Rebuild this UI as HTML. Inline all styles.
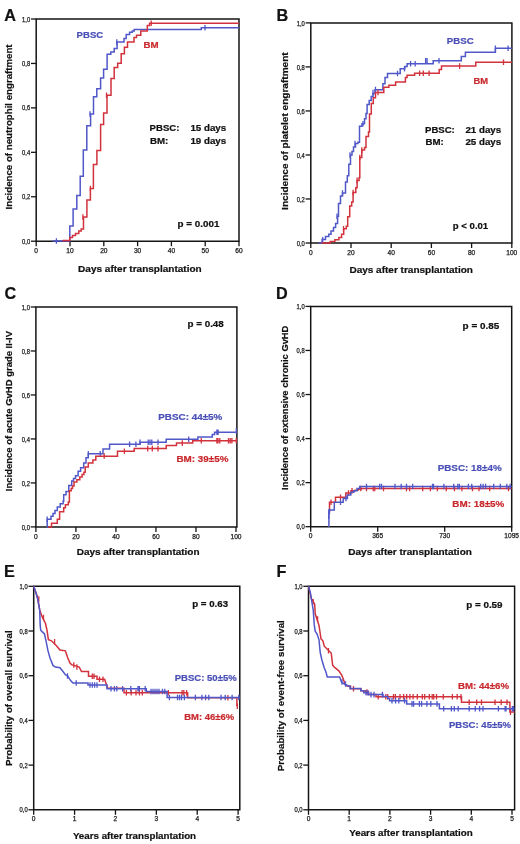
<!DOCTYPE html><html><head><meta charset="utf-8"><style>html,body{margin:0;padding:0;background:#fff;width:520px;height:844px;overflow:hidden}svg{display:block;will-change:transform;filter:blur(0.3px)}text{font-family:"Liberation Sans",sans-serif}</style></head><body>
<svg width="520" height="844" viewBox="0 0 520 844">
<path d="M36.20 19.00H239.00V241.20H36.20Z" fill="none" stroke="#141414" stroke-width="1.5"/>
<path d="M31.00 241.20H36.20" stroke="#141414" stroke-width="1.3"/>
<text x="22.10" y="243.80" font-size="6.5" fill="#1a1a1a" stroke="#1a1a1a" stroke-width="0.25" textLength="8.1" lengthAdjust="spacingAndGlyphs">0,0</text>
<path d="M31.00 196.76H36.20" stroke="#141414" stroke-width="1.3"/>
<text x="22.10" y="199.36" font-size="6.5" fill="#1a1a1a" stroke="#1a1a1a" stroke-width="0.25" textLength="8.1" lengthAdjust="spacingAndGlyphs">0,2</text>
<path d="M31.00 152.32H36.20" stroke="#141414" stroke-width="1.3"/>
<text x="22.10" y="154.92" font-size="6.5" fill="#1a1a1a" stroke="#1a1a1a" stroke-width="0.25" textLength="8.1" lengthAdjust="spacingAndGlyphs">0,4</text>
<path d="M31.00 107.88H36.20" stroke="#141414" stroke-width="1.3"/>
<text x="22.10" y="110.48" font-size="6.5" fill="#1a1a1a" stroke="#1a1a1a" stroke-width="0.25" textLength="8.1" lengthAdjust="spacingAndGlyphs">0,6</text>
<path d="M31.00 63.44H36.20" stroke="#141414" stroke-width="1.3"/>
<text x="22.10" y="66.04" font-size="6.5" fill="#1a1a1a" stroke="#1a1a1a" stroke-width="0.25" textLength="8.1" lengthAdjust="spacingAndGlyphs">0,8</text>
<path d="M31.00 19.00H36.20" stroke="#141414" stroke-width="1.3"/>
<text x="22.10" y="21.60" font-size="6.5" fill="#1a1a1a" stroke="#1a1a1a" stroke-width="0.25" textLength="8.1" lengthAdjust="spacingAndGlyphs">1,0</text>
<path d="M36.20 241.20V246.20" stroke="#141414" stroke-width="1.3"/>
<text x="36.20" y="252.80" font-size="6.6" fill="#1a1a1a" stroke="#1a1a1a" stroke-width="0.25" text-anchor="middle">0</text>
<path d="M70.00 241.20V246.20" stroke="#141414" stroke-width="1.3"/>
<text x="70.00" y="252.80" font-size="6.6" fill="#1a1a1a" stroke="#1a1a1a" stroke-width="0.25" text-anchor="middle">10</text>
<path d="M103.80 241.20V246.20" stroke="#141414" stroke-width="1.3"/>
<text x="103.80" y="252.80" font-size="6.6" fill="#1a1a1a" stroke="#1a1a1a" stroke-width="0.25" text-anchor="middle">20</text>
<path d="M137.60 241.20V246.20" stroke="#141414" stroke-width="1.3"/>
<text x="137.60" y="252.80" font-size="6.6" fill="#1a1a1a" stroke="#1a1a1a" stroke-width="0.25" text-anchor="middle">30</text>
<path d="M171.40 241.20V246.20" stroke="#141414" stroke-width="1.3"/>
<text x="171.40" y="252.80" font-size="6.6" fill="#1a1a1a" stroke="#1a1a1a" stroke-width="0.25" text-anchor="middle">40</text>
<path d="M205.20 241.20V246.20" stroke="#141414" stroke-width="1.3"/>
<text x="205.20" y="252.80" font-size="6.6" fill="#1a1a1a" stroke="#1a1a1a" stroke-width="0.25" text-anchor="middle">50</text>
<path d="M239.00 241.20V246.20" stroke="#141414" stroke-width="1.3"/>
<text x="239.00" y="252.80" font-size="6.6" fill="#1a1a1a" stroke="#1a1a1a" stroke-width="0.25" text-anchor="middle">60</text>
<path d="M310.80 22.90H511.90V243.00H310.80Z" fill="none" stroke="#141414" stroke-width="1.5"/>
<path d="M305.60 243.00H310.80" stroke="#141414" stroke-width="1.3"/>
<text x="296.70" y="245.60" font-size="6.5" fill="#1a1a1a" stroke="#1a1a1a" stroke-width="0.25" textLength="8.1" lengthAdjust="spacingAndGlyphs">0,0</text>
<path d="M305.60 198.98H310.80" stroke="#141414" stroke-width="1.3"/>
<text x="296.70" y="201.58" font-size="6.5" fill="#1a1a1a" stroke="#1a1a1a" stroke-width="0.25" textLength="8.1" lengthAdjust="spacingAndGlyphs">0,2</text>
<path d="M305.60 154.96H310.80" stroke="#141414" stroke-width="1.3"/>
<text x="296.70" y="157.56" font-size="6.5" fill="#1a1a1a" stroke="#1a1a1a" stroke-width="0.25" textLength="8.1" lengthAdjust="spacingAndGlyphs">0,4</text>
<path d="M305.60 110.94H310.80" stroke="#141414" stroke-width="1.3"/>
<text x="296.70" y="113.54" font-size="6.5" fill="#1a1a1a" stroke="#1a1a1a" stroke-width="0.25" textLength="8.1" lengthAdjust="spacingAndGlyphs">0,6</text>
<path d="M305.60 66.92H310.80" stroke="#141414" stroke-width="1.3"/>
<text x="296.70" y="69.52" font-size="6.5" fill="#1a1a1a" stroke="#1a1a1a" stroke-width="0.25" textLength="8.1" lengthAdjust="spacingAndGlyphs">0,8</text>
<path d="M305.60 22.90H310.80" stroke="#141414" stroke-width="1.3"/>
<text x="296.70" y="25.50" font-size="6.5" fill="#1a1a1a" stroke="#1a1a1a" stroke-width="0.25" textLength="8.1" lengthAdjust="spacingAndGlyphs">1,0</text>
<path d="M310.80 243.00V248.00" stroke="#141414" stroke-width="1.3"/>
<text x="310.80" y="254.60" font-size="6.6" fill="#1a1a1a" stroke="#1a1a1a" stroke-width="0.25" text-anchor="middle">0</text>
<path d="M351.00 243.00V248.00" stroke="#141414" stroke-width="1.3"/>
<text x="351.00" y="254.60" font-size="6.6" fill="#1a1a1a" stroke="#1a1a1a" stroke-width="0.25" text-anchor="middle">20</text>
<path d="M391.20 243.00V248.00" stroke="#141414" stroke-width="1.3"/>
<text x="391.20" y="254.60" font-size="6.6" fill="#1a1a1a" stroke="#1a1a1a" stroke-width="0.25" text-anchor="middle">40</text>
<path d="M431.40 243.00V248.00" stroke="#141414" stroke-width="1.3"/>
<text x="431.40" y="254.60" font-size="6.6" fill="#1a1a1a" stroke="#1a1a1a" stroke-width="0.25" text-anchor="middle">60</text>
<path d="M471.60 243.00V248.00" stroke="#141414" stroke-width="1.3"/>
<text x="471.60" y="254.60" font-size="6.6" fill="#1a1a1a" stroke="#1a1a1a" stroke-width="0.25" text-anchor="middle">80</text>
<path d="M511.80 243.00V248.00" stroke="#141414" stroke-width="1.3"/>
<text x="511.80" y="254.60" font-size="6.6" fill="#1a1a1a" stroke="#1a1a1a" stroke-width="0.25" text-anchor="middle">100</text>
<path d="M35.90 307.00H236.90V526.90H35.90Z" fill="none" stroke="#141414" stroke-width="1.5"/>
<path d="M30.70 526.90H35.90" stroke="#141414" stroke-width="1.3"/>
<text x="21.80" y="529.50" font-size="6.5" fill="#1a1a1a" stroke="#1a1a1a" stroke-width="0.25" textLength="8.1" lengthAdjust="spacingAndGlyphs">0,0</text>
<path d="M30.70 482.92H35.90" stroke="#141414" stroke-width="1.3"/>
<text x="21.80" y="485.52" font-size="6.5" fill="#1a1a1a" stroke="#1a1a1a" stroke-width="0.25" textLength="8.1" lengthAdjust="spacingAndGlyphs">0,2</text>
<path d="M30.70 438.94H35.90" stroke="#141414" stroke-width="1.3"/>
<text x="21.80" y="441.54" font-size="6.5" fill="#1a1a1a" stroke="#1a1a1a" stroke-width="0.25" textLength="8.1" lengthAdjust="spacingAndGlyphs">0,4</text>
<path d="M30.70 394.96H35.90" stroke="#141414" stroke-width="1.3"/>
<text x="21.80" y="397.56" font-size="6.5" fill="#1a1a1a" stroke="#1a1a1a" stroke-width="0.25" textLength="8.1" lengthAdjust="spacingAndGlyphs">0,6</text>
<path d="M30.70 350.98H35.90" stroke="#141414" stroke-width="1.3"/>
<text x="21.80" y="353.58" font-size="6.5" fill="#1a1a1a" stroke="#1a1a1a" stroke-width="0.25" textLength="8.1" lengthAdjust="spacingAndGlyphs">0,8</text>
<path d="M30.70 307.00H35.90" stroke="#141414" stroke-width="1.3"/>
<text x="21.80" y="309.60" font-size="6.5" fill="#1a1a1a" stroke="#1a1a1a" stroke-width="0.25" textLength="8.1" lengthAdjust="spacingAndGlyphs">1,0</text>
<path d="M35.90 526.90V531.90" stroke="#141414" stroke-width="1.3"/>
<text x="35.90" y="538.50" font-size="6.6" fill="#1a1a1a" stroke="#1a1a1a" stroke-width="0.25" text-anchor="middle">0</text>
<path d="M75.92 526.90V531.90" stroke="#141414" stroke-width="1.3"/>
<text x="75.92" y="538.50" font-size="6.6" fill="#1a1a1a" stroke="#1a1a1a" stroke-width="0.25" text-anchor="middle">20</text>
<path d="M115.94 526.90V531.90" stroke="#141414" stroke-width="1.3"/>
<text x="115.94" y="538.50" font-size="6.6" fill="#1a1a1a" stroke="#1a1a1a" stroke-width="0.25" text-anchor="middle">40</text>
<path d="M155.96 526.90V531.90" stroke="#141414" stroke-width="1.3"/>
<text x="155.96" y="538.50" font-size="6.6" fill="#1a1a1a" stroke="#1a1a1a" stroke-width="0.25" text-anchor="middle">60</text>
<path d="M195.98 526.90V531.90" stroke="#141414" stroke-width="1.3"/>
<text x="195.98" y="538.50" font-size="6.6" fill="#1a1a1a" stroke="#1a1a1a" stroke-width="0.25" text-anchor="middle">80</text>
<path d="M236.00 526.90V531.90" stroke="#141414" stroke-width="1.3"/>
<text x="236.00" y="538.50" font-size="6.6" fill="#1a1a1a" stroke="#1a1a1a" stroke-width="0.25" text-anchor="middle">100</text>
<path d="M310.70 306.40H511.70V526.70H310.70Z" fill="none" stroke="#141414" stroke-width="1.5"/>
<path d="M305.50 526.70H310.70" stroke="#141414" stroke-width="1.3"/>
<text x="296.60" y="529.30" font-size="6.5" fill="#1a1a1a" stroke="#1a1a1a" stroke-width="0.25" textLength="8.1" lengthAdjust="spacingAndGlyphs">0,0</text>
<path d="M305.50 482.64H310.70" stroke="#141414" stroke-width="1.3"/>
<text x="296.60" y="485.24" font-size="6.5" fill="#1a1a1a" stroke="#1a1a1a" stroke-width="0.25" textLength="8.1" lengthAdjust="spacingAndGlyphs">0,2</text>
<path d="M305.50 438.58H310.70" stroke="#141414" stroke-width="1.3"/>
<text x="296.60" y="441.18" font-size="6.5" fill="#1a1a1a" stroke="#1a1a1a" stroke-width="0.25" textLength="8.1" lengthAdjust="spacingAndGlyphs">0,4</text>
<path d="M305.50 394.52H310.70" stroke="#141414" stroke-width="1.3"/>
<text x="296.60" y="397.12" font-size="6.5" fill="#1a1a1a" stroke="#1a1a1a" stroke-width="0.25" textLength="8.1" lengthAdjust="spacingAndGlyphs">0,6</text>
<path d="M305.50 350.46H310.70" stroke="#141414" stroke-width="1.3"/>
<text x="296.60" y="353.06" font-size="6.5" fill="#1a1a1a" stroke="#1a1a1a" stroke-width="0.25" textLength="8.1" lengthAdjust="spacingAndGlyphs">0,8</text>
<path d="M305.50 306.40H310.70" stroke="#141414" stroke-width="1.3"/>
<text x="296.60" y="309.00" font-size="6.5" fill="#1a1a1a" stroke="#1a1a1a" stroke-width="0.25" textLength="8.1" lengthAdjust="spacingAndGlyphs">1,0</text>
<path d="M310.70 526.70V531.70" stroke="#141414" stroke-width="1.3"/>
<text x="310.70" y="538.30" font-size="6.6" fill="#1a1a1a" stroke="#1a1a1a" stroke-width="0.25" text-anchor="middle">0</text>
<path d="M377.70 526.70V531.70" stroke="#141414" stroke-width="1.3"/>
<text x="377.70" y="538.30" font-size="6.6" fill="#1a1a1a" stroke="#1a1a1a" stroke-width="0.25" text-anchor="middle">365</text>
<path d="M444.70 526.70V531.70" stroke="#141414" stroke-width="1.3"/>
<text x="444.70" y="538.30" font-size="6.6" fill="#1a1a1a" stroke="#1a1a1a" stroke-width="0.25" text-anchor="middle">730</text>
<path d="M511.70 526.70V531.70" stroke="#141414" stroke-width="1.3"/>
<text x="511.70" y="538.30" font-size="6.6" fill="#1a1a1a" stroke="#1a1a1a" stroke-width="0.25" text-anchor="middle">1095</text>
<path d="M33.70 586.30H239.80V809.80H33.70Z" fill="none" stroke="#141414" stroke-width="1.5"/>
<path d="M28.50 809.80H33.70" stroke="#141414" stroke-width="1.3"/>
<text x="19.60" y="812.40" font-size="6.5" fill="#1a1a1a" stroke="#1a1a1a" stroke-width="0.25" textLength="8.1" lengthAdjust="spacingAndGlyphs">0,0</text>
<path d="M28.50 765.10H33.70" stroke="#141414" stroke-width="1.3"/>
<text x="19.60" y="767.70" font-size="6.5" fill="#1a1a1a" stroke="#1a1a1a" stroke-width="0.25" textLength="8.1" lengthAdjust="spacingAndGlyphs">0,2</text>
<path d="M28.50 720.40H33.70" stroke="#141414" stroke-width="1.3"/>
<text x="19.60" y="723.00" font-size="6.5" fill="#1a1a1a" stroke="#1a1a1a" stroke-width="0.25" textLength="8.1" lengthAdjust="spacingAndGlyphs">0,4</text>
<path d="M28.50 675.70H33.70" stroke="#141414" stroke-width="1.3"/>
<text x="19.60" y="678.30" font-size="6.5" fill="#1a1a1a" stroke="#1a1a1a" stroke-width="0.25" textLength="8.1" lengthAdjust="spacingAndGlyphs">0,6</text>
<path d="M28.50 631.00H33.70" stroke="#141414" stroke-width="1.3"/>
<text x="19.60" y="633.60" font-size="6.5" fill="#1a1a1a" stroke="#1a1a1a" stroke-width="0.25" textLength="8.1" lengthAdjust="spacingAndGlyphs">0,8</text>
<path d="M28.50 586.30H33.70" stroke="#141414" stroke-width="1.3"/>
<text x="19.60" y="588.90" font-size="6.5" fill="#1a1a1a" stroke="#1a1a1a" stroke-width="0.25" textLength="8.1" lengthAdjust="spacingAndGlyphs">1,0</text>
<path d="M33.70 809.80V814.80" stroke="#141414" stroke-width="1.3"/>
<text x="33.70" y="821.40" font-size="6.6" fill="#1a1a1a" stroke="#1a1a1a" stroke-width="0.25" text-anchor="middle">0</text>
<path d="M74.58 809.80V814.80" stroke="#141414" stroke-width="1.3"/>
<text x="74.58" y="821.40" font-size="6.6" fill="#1a1a1a" stroke="#1a1a1a" stroke-width="0.25" text-anchor="middle">1</text>
<path d="M115.46 809.80V814.80" stroke="#141414" stroke-width="1.3"/>
<text x="115.46" y="821.40" font-size="6.6" fill="#1a1a1a" stroke="#1a1a1a" stroke-width="0.25" text-anchor="middle">2</text>
<path d="M156.34 809.80V814.80" stroke="#141414" stroke-width="1.3"/>
<text x="156.34" y="821.40" font-size="6.6" fill="#1a1a1a" stroke="#1a1a1a" stroke-width="0.25" text-anchor="middle">3</text>
<path d="M197.22 809.80V814.80" stroke="#141414" stroke-width="1.3"/>
<text x="197.22" y="821.40" font-size="6.6" fill="#1a1a1a" stroke="#1a1a1a" stroke-width="0.25" text-anchor="middle">4</text>
<path d="M238.10 809.80V814.80" stroke="#141414" stroke-width="1.3"/>
<text x="238.10" y="821.40" font-size="6.6" fill="#1a1a1a" stroke="#1a1a1a" stroke-width="0.25" text-anchor="middle">5</text>
<path d="M308.50 586.30H514.60V809.80H308.50Z" fill="none" stroke="#141414" stroke-width="1.5"/>
<path d="M303.30 809.80H308.50" stroke="#141414" stroke-width="1.3"/>
<text x="294.40" y="812.40" font-size="6.5" fill="#1a1a1a" stroke="#1a1a1a" stroke-width="0.25" textLength="8.1" lengthAdjust="spacingAndGlyphs">0,0</text>
<path d="M303.30 765.10H308.50" stroke="#141414" stroke-width="1.3"/>
<text x="294.40" y="767.70" font-size="6.5" fill="#1a1a1a" stroke="#1a1a1a" stroke-width="0.25" textLength="8.1" lengthAdjust="spacingAndGlyphs">0,2</text>
<path d="M303.30 720.40H308.50" stroke="#141414" stroke-width="1.3"/>
<text x="294.40" y="723.00" font-size="6.5" fill="#1a1a1a" stroke="#1a1a1a" stroke-width="0.25" textLength="8.1" lengthAdjust="spacingAndGlyphs">0,4</text>
<path d="M303.30 675.70H308.50" stroke="#141414" stroke-width="1.3"/>
<text x="294.40" y="678.30" font-size="6.5" fill="#1a1a1a" stroke="#1a1a1a" stroke-width="0.25" textLength="8.1" lengthAdjust="spacingAndGlyphs">0,6</text>
<path d="M303.30 631.00H308.50" stroke="#141414" stroke-width="1.3"/>
<text x="294.40" y="633.60" font-size="6.5" fill="#1a1a1a" stroke="#1a1a1a" stroke-width="0.25" textLength="8.1" lengthAdjust="spacingAndGlyphs">0,8</text>
<path d="M303.30 586.30H308.50" stroke="#141414" stroke-width="1.3"/>
<text x="294.40" y="588.90" font-size="6.5" fill="#1a1a1a" stroke="#1a1a1a" stroke-width="0.25" textLength="8.1" lengthAdjust="spacingAndGlyphs">1,0</text>
<path d="M308.50 809.80V814.80" stroke="#141414" stroke-width="1.3"/>
<text x="308.50" y="821.40" font-size="6.6" fill="#1a1a1a" stroke="#1a1a1a" stroke-width="0.25" text-anchor="middle">0</text>
<path d="M349.20 809.80V814.80" stroke="#141414" stroke-width="1.3"/>
<text x="349.20" y="821.40" font-size="6.6" fill="#1a1a1a" stroke="#1a1a1a" stroke-width="0.25" text-anchor="middle">1</text>
<path d="M389.90 809.80V814.80" stroke="#141414" stroke-width="1.3"/>
<text x="389.90" y="821.40" font-size="6.6" fill="#1a1a1a" stroke="#1a1a1a" stroke-width="0.25" text-anchor="middle">2</text>
<path d="M430.60 809.80V814.80" stroke="#141414" stroke-width="1.3"/>
<text x="430.60" y="821.40" font-size="6.6" fill="#1a1a1a" stroke="#1a1a1a" stroke-width="0.25" text-anchor="middle">3</text>
<path d="M471.30 809.80V814.80" stroke="#141414" stroke-width="1.3"/>
<text x="471.30" y="821.40" font-size="6.6" fill="#1a1a1a" stroke="#1a1a1a" stroke-width="0.25" text-anchor="middle">4</text>
<path d="M512.00 809.80V814.80" stroke="#141414" stroke-width="1.3"/>
<text x="512.00" y="821.40" font-size="6.6" fill="#1a1a1a" stroke="#1a1a1a" stroke-width="0.25" text-anchor="middle">5</text>
<text x="4.3" y="20.9" font-size="16.2" fill="#111" font-weight="bold" stroke="#111" stroke-width="0.22">A</text>
<text x="276.4" y="21.2" font-size="16.2" fill="#111" font-weight="bold" stroke="#111" stroke-width="0.22">B</text>
<text x="4.5" y="298.7" font-size="16.2" fill="#111" font-weight="bold" stroke="#111" stroke-width="0.22">C</text>
<text x="276.0" y="298.9" font-size="16.2" fill="#111" font-weight="bold" stroke="#111" stroke-width="0.22">D</text>
<text x="4.0" y="577.2" font-size="16.2" fill="#111" font-weight="bold" stroke="#111" stroke-width="0.22">E</text>
<text x="276.5" y="577.2" font-size="16.2" fill="#111" font-weight="bold" stroke="#111" stroke-width="0.22">F</text>
<text transform="translate(12.4,209.4) rotate(-90)" font-size="9.7" fill="#111" font-weight="bold" stroke="#111" stroke-width="0.22" textLength="165.0" lengthAdjust="spacingAndGlyphs">Incidence of neutrophil engraftment</text>
<text transform="translate(287.7,209.9) rotate(-90)" font-size="9.7" fill="#111" font-weight="bold" stroke="#111" stroke-width="0.22" textLength="157.6" lengthAdjust="spacingAndGlyphs">Incidence of platelet engraftment</text>
<text transform="translate(12.4,491.2) rotate(-90)" font-size="9.7" fill="#111" font-weight="bold" stroke="#111" stroke-width="0.22" textLength="160.2" lengthAdjust="spacingAndGlyphs">Incidence of acute GvHD grade II-IV</text>
<text transform="translate(287.7,489.9) rotate(-90)" font-size="9.7" fill="#111" font-weight="bold" stroke="#111" stroke-width="0.22" textLength="164.2" lengthAdjust="spacingAndGlyphs">Incidence of extensive chronic GvHD</text>
<text transform="translate(12.0,766.0) rotate(-90)" font-size="9.7" fill="#111" font-weight="bold" stroke="#111" stroke-width="0.22" textLength="135.6" lengthAdjust="spacingAndGlyphs">Probability of overall survival</text>
<text transform="translate(283.7,771.2) rotate(-90)" font-size="9.7" fill="#111" font-weight="bold" stroke="#111" stroke-width="0.22" textLength="151.0" lengthAdjust="spacingAndGlyphs">Probability of event-free survival</text>
<text x="78.1" y="271.6" font-size="9.7" fill="#111" font-weight="bold" stroke="#111" stroke-width="0.22" textLength="123.6" lengthAdjust="spacingAndGlyphs">Days after transplantation</text>
<text x="349.4" y="273.2" font-size="9.7" fill="#111" font-weight="bold" stroke="#111" stroke-width="0.22" textLength="123.6" lengthAdjust="spacingAndGlyphs">Days after transplantation</text>
<text x="76.7" y="555.0" font-size="9.7" fill="#111" font-weight="bold" stroke="#111" stroke-width="0.22" textLength="122.8" lengthAdjust="spacingAndGlyphs">Days after transplantation</text>
<text x="348.3" y="554.7" font-size="9.7" fill="#111" font-weight="bold" stroke="#111" stroke-width="0.22" textLength="123.6" lengthAdjust="spacingAndGlyphs">Days after transplantation</text>
<text x="72.9" y="838.6" font-size="9.7" fill="#111" font-weight="bold" stroke="#111" stroke-width="0.22" textLength="123.2" lengthAdjust="spacingAndGlyphs">Years after transplantation</text>
<text x="349.2" y="836.4" font-size="9.7" fill="#111" font-weight="bold" stroke="#111" stroke-width="0.22" textLength="123.6" lengthAdjust="spacingAndGlyphs">Years after transplantation</text>
<text x="76.6" y="38.0" font-size="9.7" fill="#4a50b6" font-weight="bold" stroke="#4a50b6" stroke-width="0.22" textLength="26.6" lengthAdjust="spacingAndGlyphs">PBSC</text>
<text x="143.5" y="48.2" font-size="9.7" fill="#c82a2e" font-weight="bold" stroke="#c82a2e" stroke-width="0.22" textLength="15.1" lengthAdjust="spacingAndGlyphs">BM</text>
<text x="149.6" y="131.4" font-size="9.7" fill="#111" font-weight="bold" stroke="#111" stroke-width="0.22" textLength="29.8" lengthAdjust="spacingAndGlyphs">PBSC:</text>
<text x="190.4" y="131.4" font-size="9.7" fill="#111" font-weight="bold" stroke="#111" stroke-width="0.22" textLength="35.8" lengthAdjust="spacingAndGlyphs">15 days</text>
<text x="150.0" y="143.5" font-size="9.7" fill="#111" font-weight="bold" stroke="#111" stroke-width="0.22">BM:</text>
<text x="190.4" y="143.5" font-size="9.7" fill="#111" font-weight="bold" stroke="#111" stroke-width="0.22" textLength="35.8" lengthAdjust="spacingAndGlyphs">19 days</text>
<text x="177.6" y="227.0" font-size="9.7" fill="#111" font-weight="bold" stroke="#111" stroke-width="0.22" textLength="41.8" lengthAdjust="spacingAndGlyphs">p = 0.001</text>
<text x="446.8" y="43.9" font-size="9.7" fill="#4a50b6" font-weight="bold" stroke="#4a50b6" stroke-width="0.22" textLength="26.8" lengthAdjust="spacingAndGlyphs">PBSC</text>
<text x="473.4" y="84.2" font-size="9.7" fill="#c82a2e" font-weight="bold" stroke="#c82a2e" stroke-width="0.22" textLength="14.6" lengthAdjust="spacingAndGlyphs">BM</text>
<text x="425.0" y="132.7" font-size="9.7" fill="#111" font-weight="bold" stroke="#111" stroke-width="0.22" textLength="29.8" lengthAdjust="spacingAndGlyphs">PBSC:</text>
<text x="465.4" y="132.7" font-size="9.7" fill="#111" font-weight="bold" stroke="#111" stroke-width="0.22" textLength="35.8" lengthAdjust="spacingAndGlyphs">21 days</text>
<text x="425.4" y="144.8" font-size="9.7" fill="#111" font-weight="bold" stroke="#111" stroke-width="0.22">BM:</text>
<text x="465.4" y="144.8" font-size="9.7" fill="#111" font-weight="bold" stroke="#111" stroke-width="0.22" textLength="35.8" lengthAdjust="spacingAndGlyphs">25 days</text>
<text x="452.8" y="229.1" font-size="9.7" fill="#111" font-weight="bold" stroke="#111" stroke-width="0.22" textLength="35.4" lengthAdjust="spacingAndGlyphs">p &lt; 0.01</text>
<text x="187.5" y="326.8" font-size="9.7" fill="#111" font-weight="bold" stroke="#111" stroke-width="0.22" textLength="36.3" lengthAdjust="spacingAndGlyphs">p = 0.48</text>
<text x="158.3" y="420.4" font-size="9.7" fill="#4a50b6" font-weight="bold" stroke="#4a50b6" stroke-width="0.22" textLength="64.0" lengthAdjust="spacingAndGlyphs">PBSC: 44±5%</text>
<text x="176.5" y="462.3" font-size="9.7" fill="#c82a2e" font-weight="bold" stroke="#c82a2e" stroke-width="0.22" textLength="52.0" lengthAdjust="spacingAndGlyphs">BM: 39±5%</text>
<text x="462.6" y="328.5" font-size="9.7" fill="#111" font-weight="bold" stroke="#111" stroke-width="0.22" textLength="36.6" lengthAdjust="spacingAndGlyphs">p = 0.85</text>
<text x="437.7" y="471.0" font-size="9.7" fill="#4a50b6" font-weight="bold" stroke="#4a50b6" stroke-width="0.22" textLength="64.0" lengthAdjust="spacingAndGlyphs">PBSC: 18±4%</text>
<text x="452.3" y="507.3" font-size="9.7" fill="#c82a2e" font-weight="bold" stroke="#c82a2e" stroke-width="0.22" textLength="52.0" lengthAdjust="spacingAndGlyphs">BM: 18±5%</text>
<text x="192.2" y="606.6" font-size="9.7" fill="#111" font-weight="bold" stroke="#111" stroke-width="0.22" textLength="35.9" lengthAdjust="spacingAndGlyphs">p = 0.63</text>
<text x="174.7" y="681.3" font-size="9.7" fill="#4a50b6" font-weight="bold" stroke="#4a50b6" stroke-width="0.22" textLength="62.0" lengthAdjust="spacingAndGlyphs">PBSC: 50±5%</text>
<text x="184.2" y="720.2" font-size="9.7" fill="#c82a2e" font-weight="bold" stroke="#c82a2e" stroke-width="0.22" textLength="50.0" lengthAdjust="spacingAndGlyphs">BM: 46±6%</text>
<text x="466.2" y="607.9" font-size="9.7" fill="#111" font-weight="bold" stroke="#111" stroke-width="0.22" textLength="36.4" lengthAdjust="spacingAndGlyphs">p = 0.59</text>
<text x="458.0" y="688.7" font-size="9.7" fill="#c82a2e" font-weight="bold" stroke="#c82a2e" stroke-width="0.22" textLength="51.0" lengthAdjust="spacingAndGlyphs">BM: 44±6%</text>
<text x="449.0" y="727.5" font-size="9.7" fill="#4a50b6" font-weight="bold" stroke="#4a50b6" stroke-width="0.22" textLength="62.0" lengthAdjust="spacingAndGlyphs">PBSC: 45±5%</text>
<path d="M52.5 241H69.8V226H73.1V209H76.8V195.5H80.2V176.2H83.3V150H86.8V125.8H90.6V114H93.5V96.7H96.8V88.8H100.6V77.9H103.6V69.2H107.1V54.2H110.8V51.9H114.2V48.5H117.1V42.1H124V38.5H126.2V34.5H129.6V32.2H132.3V31H134.2V29.5H201.3V27.8H239V27.8" fill="none" stroke="#5057c8" stroke-width="1.5" stroke-linejoin="miter" stroke-linecap="butt"/>
<path d="M56.4 238.2V243.8M90 111.2V116.8M116.8 39.300000000000004V44.9M205 25.0V30.6" stroke="#5057c8" stroke-width="1.3"/>
<path d="M62.5 240.5H69.8V237.5H72.5V235.5H75.5V233.5H78.8V231H81.2V229H83.5V217H86.9V200H90.4V188.5H93.4V164.4H96.9V150.6H100.6V124.4H103.6V113.1H107V95.2H111V78.5H114.2V67.5H117.7V63.2H121.2V53.7H124.4V47.3H127.5V42.1H134V37.5H136.5V35.2H140.8V31H147.3V25.6H149.6V23.3H239V23.3" fill="none" stroke="#d2323c" stroke-width="1.5" stroke-linejoin="miter" stroke-linecap="butt"/>
<path d="M82.9 214.2V219.8M90.4 185.7V191.3M106.5 92.4V98.0M151.2 20.5V26.1" stroke="#d2323c" stroke-width="1.3"/>
<path d="M318.7 243H322.1V239.5H325.5V236.5H328.8V234.2H331V231H333.5V227.5H335.6V223.5H337.6V216.2H338.5V203.5H340.5V196H342.5V193H345.5V182H347.3V175.8H348.8V164.3H350.5V155H352V151.5H353.5V147H355.5V143.5H358V142.3H359.5V126.2H362V123.8H364.5V118.7H366V113.5H367.1V104.6H369.2V100.4H371.2V96.5H373V93.5H375V89.8H382.9V83.8H385V77.5H387.5V73.5H400.2V68.8H404.8V66.5H407.1V63.7H433.2V60.8H461.3V56.5H465.4V52.2H495.4V48.3H511.9V48.3" fill="none" stroke="#5057c8" stroke-width="1.5" stroke-linejoin="miter" stroke-linecap="butt"/>
<path d="M322.7 237.0V242.60000000000002M337 213.39999999999998V219.0M342.5 190.2V195.8M350 152.2V157.8M355 140.7V146.3M363 121.0V126.6M373 89.7V95.3M375.5 86.8V92.39999999999999M397.5 70.7V76.3M404.5 66.0V71.6M410.6 60.900000000000006V66.5M415.2 60.900000000000006V66.5M425.6 58.0V63.599999999999994M427.1 58.0V63.599999999999994M439 58.0V63.599999999999994M495.4 45.5V51.099999999999994M508.1 45.5V51.099999999999994" stroke="#5057c8" stroke-width="1.3"/>
<path d="M321.5 243H330.2V241.5H334.9V239.8H338.9V237.6H341.6V234.2H343.7V228.8H346.3V226.2H347.7V216.7H349.7V206H351.7V201.9H353.1V192.5H355.8V187.8H357.1V180.4H359.1V177.7H359.8V157.5H361.8V150.1H364.5V147.4H366V136.5H368.5V131.9H369.5V114H371.3V103.5H373.3V97.8H375.5V92.5H383.8V87.3H388.9V85.2H395.6V82.1H405.4V77.5H407.1V75.2H414.6V73.3H439.2V69.4H441.5V66.1H475.8V62.2H511.9V62.2" fill="none" stroke="#d2323c" stroke-width="1.5" stroke-linejoin="miter" stroke-linecap="butt"/>
<path d="M343.5 226.0V231.60000000000002M353.1 189.7V195.3M357.1 177.6V183.20000000000002M359.8 154.7V160.3M361.8 147.29999999999998V152.9M378 89.7V95.3M419.6 70.5V76.1M423.3 70.5V76.1M429.1 70.5V76.1M459.6 63.3V68.89999999999999M503.5 59.400000000000006V65.0" stroke="#d2323c" stroke-width="1.3"/>
<path d="M46.8 527H47.2V519.2H51V516.3H53V513.5H55V510.6H57.3V507.1H60.2V503.7H63.1V501.3H63.7V494.8H66V491.4H68.8V485.6H71.7V481H73.5V478.5H75.5V475.8H78.1V471.2H80.6V467.7H83.7V463.1H86V457.7H88.3V453.8H103V449H109.6V444.3H140V442.2H166.2V439.3H197.9V437H212.3V434.4H214.6V432.3H236.9V432.3" fill="none" stroke="#5057c8" stroke-width="1.5" stroke-linejoin="miter" stroke-linecap="butt"/>
<path d="M47.2 516.4000000000001V522.0M88.3 451.0V456.6M100.2 451.0V456.6M129.6 441.5V447.1M135.9 441.5V447.1M140 439.4V445.0M148.2 439.4V445.0M150 439.4V445.0M151.8 439.4V445.0M158 439.4V445.0M188.7 436.5V442.1M216.9 429.5V435.1M218.1 429.5V435.1M236.3 428.2V433.8" stroke="#5057c8" stroke-width="1.3"/>
<path d="M48.1 527H51.5V523.3H57.3V519.2H59.6V511.7H63.7V507.7H65.4V504.8H68.3V501.9H69.4V490.8H71.2V488.5H72.5V486H74V482.1H76.9V479.8H79.8V476.9H82.1V474.6H83.9V472.3H85.2V467H88.3V463.1H92.9V460H95.8V456.2H117.5V451.3H134.2V448.6H166.2V445.4H176.5V443.1H192.7V440.8H236.9V440.8" fill="none" stroke="#d2323c" stroke-width="1.5" stroke-linejoin="miter" stroke-linecap="butt"/>
<path d="M104.2 453.2V458.8M124.4 448.5V454.1M147.7 445.8V451.40000000000003M152.3 445.8V451.40000000000003M158 445.8V451.40000000000003M182.3 440.3V445.90000000000003M201.3 438.0V443.6M216.9 438.0V443.6M218 438.0V443.6M219.8 438.0V443.6M228.5 438.0V443.6M230.2 438.0V443.6M231.9 438.0V443.6M236.3 438.0V443.6" stroke="#d2323c" stroke-width="1.3"/>
<path d="M329.5 512H329.5V502.3H335.5V497.3H345.8V493H351V490.8H355V490.2H358V489.2H361V488.5H511.7V488.5" fill="none" stroke="#d2323c" stroke-width="1.5" stroke-linejoin="miter" stroke-linecap="butt"/>
<path d="M331 499.5V505.1M340.5 494.5V500.1M348.5 490.2V495.8M352 488.0V493.6M360.8 485.7V491.3M366.5 485.7V491.3M373.2 485.7V491.3M374.7 485.7V491.3M383.5 485.7V491.3M406.5 485.7V491.3M409.6 485.7V491.3M422.7 485.7V491.3M430.4 485.7V491.3M437.4 485.7V491.3M446.3 485.7V491.3M454.5 485.7V491.3M461.9 485.7V491.3M472.5 485.7V491.3M479 485.7V491.3M489.7 485.7V491.3M508.5 485.7V491.3" stroke="#d2323c" stroke-width="1.3"/>
<path d="M328.9 527H328.9V510H334.3V502.3H343.2V498.5H347.4V495H350.8V492.3H353.9V490.8H357V488.5H359.7V486.5H511.7V486.5" fill="none" stroke="#5057c8" stroke-width="1.5" stroke-linejoin="miter" stroke-linecap="butt"/>
<path d="M328.9 513.4000000000001V519.0M328.9 510.99999999999994V516.5999999999999M329.5 508.4V514.0M340.5 499.5V505.1M346 495.7V501.3M366.5 483.7V489.3M379.6 483.7V489.3M381.5 483.7V489.3M395 483.7V489.3M401.2 483.7V489.3M406.5 483.7V489.3M412.7 483.7V489.3M432.5 483.7V489.3M433.5 483.7V489.3M443.9 483.7V489.3M453.7 483.7V489.3M457.8 483.7V489.3M459.4 483.7V489.3M468.4 483.7V489.3M471.7 483.7V489.3M480.7 483.7V489.3M483.1 483.7V489.3M485.6 483.7V489.3M493.7 483.7V489.3M500.3 483.7V489.3M506.8 483.7V489.3M510.1 483.7V489.3" stroke="#5057c8" stroke-width="1.3"/>
<path d="M33.7 586.3L37.3 596.5L39.7 610L42.1 616.7L45.5 623.5L47 630.2L48.4 639.8L51.5 640.8L56.2 645.4L60 650L65.4 650.8L67.7 657.7L70 663L71.5 664.6L79.2 667L81.5 671.5H88.5V676.2H97V679.2H104.6L107.7 688.3H124V692.8H187.6V697.7H236.9V706.2" fill="none" stroke="#d2323c" stroke-width="1.5" stroke-linejoin="miter" stroke-linecap="butt"/>
<path d="M38.8 596.2V601.8M43.5 614.7V620.3M54.6 638.9000000000001V644.5M73.8 662.2V667.8M76.9 664.2V669.8M92.3 673.4000000000001V679.0M94 673.4000000000001V679.0M99.5 676.4000000000001V682.0M103 676.4000000000001V682.0M126.4 690.0V695.5999999999999M131.2 690.0V695.5999999999999M136 690.0V695.5999999999999M139.4 690.0V695.5999999999999M142.3 690.0V695.5999999999999M168.3 690.0V695.5999999999999M182.1 690.0V695.5999999999999M183.8 690.0V695.5999999999999M186.6 690.0V695.5999999999999M227.9 694.9000000000001V700.5M237.3 703.4000000000001V709.0" stroke="#d2323c" stroke-width="1.3"/>
<path d="M33.7 586.3L35.9 592.7L37.8 599.4L39.7 610L40.2 625.4L40.7 630.2L42.6 632.1L44.5 634L46 640.8L47.9 650.4L50 658L53 665.4L55.4 667L60 667.7L63 671.5L65.4 674.6L67.7 676L70.8 680.8L73 683H88V685H107V688.7H146.3V691.5H167.1V697.5H239.8" fill="none" stroke="#5057c8" stroke-width="1.5" stroke-linejoin="miter" stroke-linecap="butt"/>
<path d="M67.5 673.2V678.8M76.2 680.2V685.8M90 682.2V687.8M92.3 682.2V687.8M94.6 682.2V687.8M97 682.2V687.8M111 685.9000000000001V691.5M114.4 685.9000000000001V691.5M116.8 685.9000000000001V691.5M122.6 685.9000000000001V691.5M130.8 685.9000000000001V691.5M138 685.9000000000001V691.5M139.4 685.9000000000001V691.5M145.2 685.9000000000001V691.5M151 688.7V694.3M153 688.7V694.3M155 688.7V694.3M157 688.7V694.3M159 688.7V694.3M162.5 688.7V694.3M164.8 688.7V694.3M169.4 694.7V700.3M177.5 694.7V700.3M179.5 694.7V700.3M181.5 694.7V700.3M184.4 694.7V700.3M195.4 694.7V700.3M201.9 694.7V700.3M205.6 694.7V700.3M208.8 694.7V700.3M221 694.7V700.3M225.2 694.7V700.3M232.1 694.7V700.3M238.8 694.7V700.3" stroke="#5057c8" stroke-width="1.3"/>
<path d="M308.5 586.3L311.3 598.5L314.7 604.2L315.2 613.8L319 625.4L321 638.8L322.9 640.8L324.3 646.2L328.8 650.8L331.2 653L332.7 665.4L335 667.7L338.8 670.8L341.9 675.4L345 683.8L347.3 686.2H350.5V688.8H361V690.8H365.6V692H368.5V694.6H376V696.8H461.5V702.3H509.9V712.1H514.6" fill="none" stroke="#d2323c" stroke-width="1.5" stroke-linejoin="miter" stroke-linecap="butt"/>
<path d="M313.2 599.0V604.5999999999999M317.6 616.3000000000001V621.9M328.5 648.0V653.5999999999999M353.5 686.0V691.5999999999999M367 689.2V694.8M378.2 694.0V699.5999999999999M385.8 694.0V699.5999999999999M387.7 694.0V699.5999999999999M393.5 694.0V699.5999999999999M395.4 694.0V699.5999999999999M400 694.0V699.5999999999999M403.6 694.0V699.5999999999999M406.7 694.0V699.5999999999999M409.9 694.0V699.5999999999999M413.1 694.0V699.5999999999999M417.3 694.0V699.5999999999999M422.3 694.0V699.5999999999999M424.7 694.0V699.5999999999999M429.3 694.0V699.5999999999999M432.2 694.0V699.5999999999999M433.7 694.0V699.5999999999999M436.5 694.0V699.5999999999999M443.3 694.0V699.5999999999999M452.4 694.0V699.5999999999999M457.2 694.0V699.5999999999999M461 694.0V699.5999999999999M469.2 699.5V705.0999999999999M476.7 699.5V705.0999999999999M481.5 699.5V705.0999999999999M495 699.5V705.0999999999999M501.2 699.5V705.0999999999999M507 699.5V705.0999999999999M510.5 709.3000000000001V714.9" stroke="#d2323c" stroke-width="1.3"/>
<path d="M308.5 586.3L310.4 592.7L311.5 600L313.25 610L314.2 624.4L315.2 631.2L317.1 634L319 639.8L320.2 652.3L321.9 660L324.2 667.7L325.8 671.5L327.3 676.9H339.6L341.5 682L344.4 684L348.3 686H350V688.5H360.8V690.8H363.7V692.7H368.5V694.6H383V696.5H387.7V698.5H389.6V700.8H406.7V703.9H439.4V708.8H514.6" fill="none" stroke="#5057c8" stroke-width="1.5" stroke-linejoin="miter" stroke-linecap="butt"/>
<path d="M342 679.2V684.8M345.5 681.2V686.8M366 689.9000000000001V695.5M368 689.9000000000001V695.5M371 691.8000000000001V697.4M374 691.8000000000001V697.4M382.4 691.8000000000001V697.4M392 698.0V703.5999999999999M395.6 698.0V703.5999999999999M398.8 698.0V703.5999999999999M404.6 698.0V703.5999999999999M412 701.1V706.6999999999999M413.6 701.1V706.6999999999999M419.4 701.1V706.6999999999999M421.6 701.1V706.6999999999999M426.9 701.1V706.6999999999999M430.8 701.1V706.6999999999999M437 701.1V706.6999999999999M443.7 706.0V711.5999999999999M451.4 706.0V711.5999999999999M454.3 706.0V711.5999999999999M458.2 706.0V711.5999999999999M469.2 706.0V711.5999999999999M475.3 706.0V711.5999999999999M479.6 706.0V711.5999999999999M483 706.0V711.5999999999999M498.4 706.0V711.5999999999999M505.1 706.0V711.5999999999999M506 706.0V711.5999999999999M512.3 706.0V711.5999999999999M513.3 706.0V711.5999999999999" stroke="#5057c8" stroke-width="1.3"/>
</svg></body></html>
